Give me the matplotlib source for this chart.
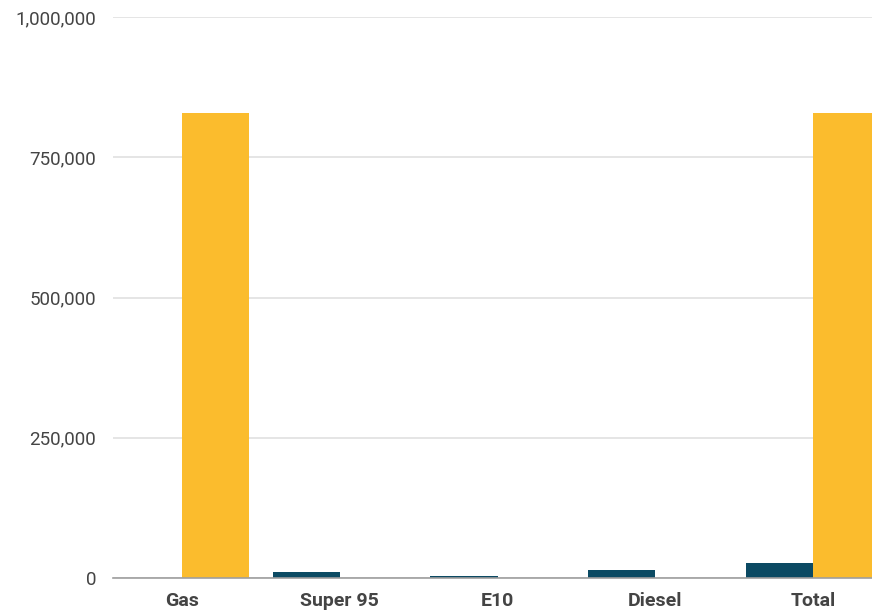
import numpy as np
import matplotlib.pyplot as plt
from matplotlib.ticker import FuncFormatter

# fuel categories and the two series per category
categories = ["Gas", "Super 95", "E10", "Diesel", "Total"]
series_dark = [0, 10700, 3500, 14300, 26500]
series_yellow = [828000, 0, 0, 0, 828000]
y_ticks = [0, 250000, 500000, 750000, 1000000]

dark_color = "#0b4a63"
yellow_color = "#fbbc2d"
text_color = "#444444"

plt.rcParams["font.family"] = ["Roboto", "DejaVu Sans"]

fig = plt.figure(figsize=(8.72, 6.10), dpi=100)
ax = fig.add_axes([113 / 872, 32 / 610, 1 - 113 / 872, 561 / 610])

x = np.arange(len(categories))
w = 0.425
ax.bar(x - w / 2, series_dark, width=w, color=dark_color, zorder=3)
ax.bar(x + w / 2, series_yellow, width=w, color=yellow_color, zorder=3)

ax.set_xlim(-0.437, 4.373)
ax.set_ylim(0, 1000000)
ax.set_yticks(y_ticks)
ax.yaxis.set_major_formatter(FuncFormatter(lambda v, p: f"{int(v):,}"))
ax.set_xticks(x)
ax.set_xticklabels(categories, fontsize=14, fontweight="semibold", color=text_color)
ax.tick_params(axis="y", labelsize=13.5, colors=text_color, length=0, pad=12)
ax.tick_params(axis="x", length=0, pad=10)

ax.grid(axis="y", color="#e0e0e0", linewidth=1.2, zorder=0)
for side in ["top", "right", "left"]:
    ax.spines[side].set_visible(False)
ax.spines["bottom"].set_color("#9e9e9e")
ax.spines["bottom"].set_linewidth(1.2)
ax.spines["bottom"].set_zorder(4)

fig.savefig("out.png", dpi=100)
